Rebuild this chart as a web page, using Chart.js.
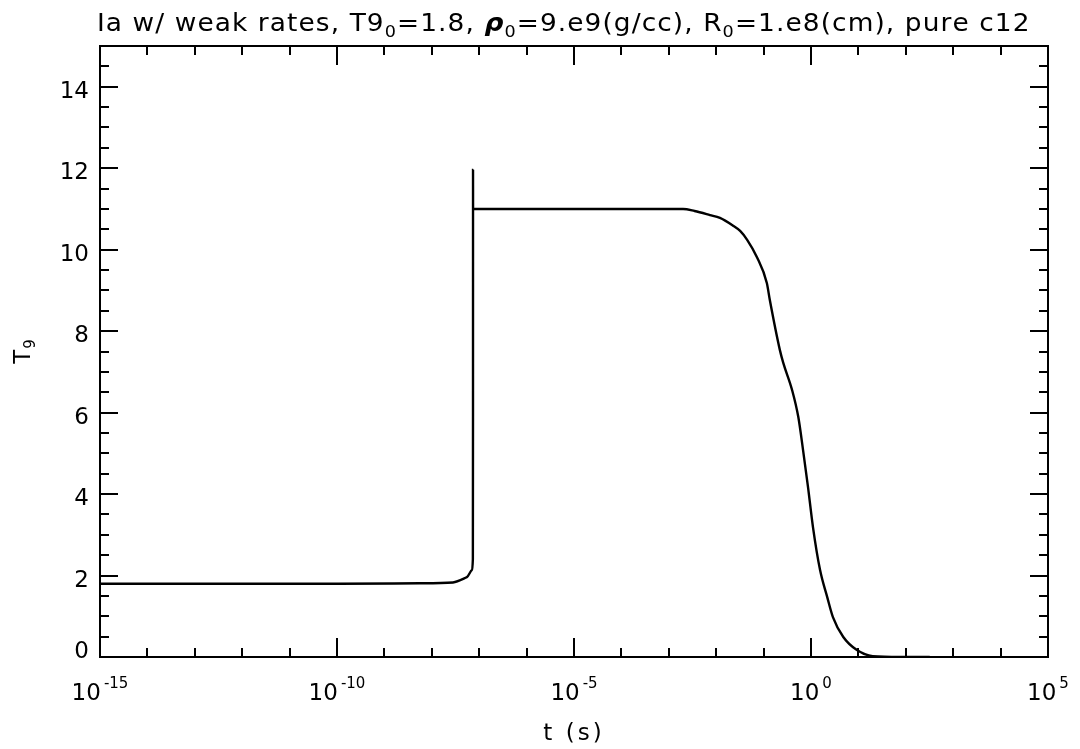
<!DOCTYPE html>
<html>
<head>
<meta charset="utf-8">
<script src="https://cdn.jsdelivr.net/npm/chart.js@4/dist/chart.umd.min.js"></script>
<style>
  html, body { margin: 0; padding: 0; background: #fff; }
  #wrap { width: 1080px; height: 749px; }
</style>
</head>
<body>
<div id="wrap"><canvas id="c" width="1080" height="749"></canvas></div>
<script>
// time (s) and temperature T9
const tValues = [1e-15, 1e-12, 1e-10, 5.6e-9, 2.8e-8, 5.5e-8, 7.1e-8, 7.35e-8,
  7.40e-8, 7.41e-8, 7.42e-8, 1e-5, 2.0e-3, 3.5e-3, 7.4e-3, 1.2e-2, 2.2e-2,
  3.2e-2, 4.5e-2, 7.2e-2, 0.117, 0.135, 0.22, 0.26, 0.40, 0.54, 0.68,
  0.865, 1.10, 1.55, 2.2, 2.9, 4.8, 9.3, 20, 76, 320];
const t9Values = [1.80, 1.80, 1.80, 1.81, 1.83, 1.96, 2.14, 2.40,
  6.0, 11.96, 11.0, 11.0, 11.0, 10.95, 10.85, 10.78, 10.6,
  10.46, 10.24, 9.82, 9.18, 8.77, 7.54, 7.22, 6.55, 5.89, 5.08,
  4.17, 3.19, 2.14, 1.47, 0.98, 0.49, 0.17, 0.02, 0.0, 0.0];

const xMajorTicks = [1e-15, 1e-10, 1e-5, 1e0, 1e5];
const xTickExponents = ['-15', '-10', '-5', '0', '5'];
const xMinorTicks = [1e-14, 1e-13, 1e-12, 1e-11, 1e-9, 1e-8, 1e-7, 1e-6,
  1e-4, 1e-3, 1e-2, 1e-1, 1e1, 1e2, 1e3, 1e4];
const yMajorTicks = [0, 2, 4, 6, 8, 10, 12, 14];
const yTickLabels = ['0', '2', '4', '6', '8', '10', '12', '14'];
const yMinorTicks = [0.5, 1, 1.5, 2.5, 3, 3.5, 4.5, 5, 5.5, 6.5, 7, 7.5, 8.5, 9, 9.5,
  10.5, 11, 11.5, 12.5, 13, 13.5, 14.5];

const FONT = '"DejaVu Sans", sans-serif';
const BIG = '23px ' + FONT;
const SMALL = '15px ' + FONT;

// IDL-style box axes: inward ticks on all four sides, labels with super/subscripts
const idlAxes = {
  id: 'idlAxes',
  afterDraw(chart) {
    const { ctx, chartArea: a, scales: { x, y } } = chart;
    ctx.save();
    ctx.strokeStyle = '#000';
    ctx.fillStyle = '#000';
    ctx.lineWidth = 2;
    ctx.strokeRect(a.left, a.top, a.right - a.left, a.bottom - a.top);

    const tickX = (v, len) => {
      const px = Math.round(x.getPixelForValue(v));
      ctx.beginPath();
      ctx.moveTo(px, a.bottom); ctx.lineTo(px, a.bottom - len);
      ctx.moveTo(px, a.top); ctx.lineTo(px, a.top + len);
      ctx.stroke();
    };
    const tickY = (v, len) => {
      const py = Math.round(y.getPixelForValue(v));
      ctx.beginPath();
      ctx.moveTo(a.left, py); ctx.lineTo(a.left + len, py);
      ctx.moveTo(a.right, py); ctx.lineTo(a.right - len, py);
      ctx.stroke();
    };
    xMajorTicks.forEach(v => tickX(v, 19));
    xMinorTicks.forEach(v => tickX(v, 9));
    yMajorTicks.forEach(v => tickY(v, 18));
    yMinorTicks.forEach(v => tickY(v, 9));

    // y tick labels (bottom one is kept inside the axis, like IDL does)
    ctx.font = BIG;
    ctx.textAlign = 'right';
    ctx.textBaseline = 'alphabetic';
    yMajorTicks.forEach((v, i) => {
      const base = Math.min(y.getPixelForValue(v) + 11, a.bottom + 1);
      ctx.fillText(yTickLabels[i], a.left - 11, base);
    });

    // x tick labels: 10^n
    ctx.textAlign = 'left';
    xMajorTicks.forEach((v, i) => {
      ctx.font = BIG;
      const wb = ctx.measureText('10').width;
      ctx.font = SMALL;
      const we = ctx.measureText(xTickExponents[i]).width;
      const x0 = x.getPixelForValue(v) - (wb + we + 3) / 2;
      ctx.font = BIG;
      ctx.fillText('10', x0, 700);
      ctx.font = SMALL;
      ctx.fillText(xTickExponents[i], x0 + wb + 3, 688);
    });

    // x axis title
    ctx.font = BIG;
    ctx.letterSpacing = '3px';
    ctx.textAlign = 'center';
    ctx.fillText('t (s)', (a.left + a.right) / 2, 740);
    ctx.letterSpacing = '0px';

    // y axis title T9 (rotated)
    ctx.save();
    ctx.translate(30, 352);
    ctx.rotate(-Math.PI / 2);
    ctx.textAlign = 'left';
    ctx.font = BIG;
    const wT = ctx.measureText('T').width;
    ctx.font = SMALL;
    const w9 = ctx.measureText('9').width;
    ctx.font = BIG;
    ctx.fillText('T', -(wT + w9) / 2, 0);
    ctx.font = SMALL;
    ctx.fillText('9', -(wT + w9) / 2 + wT + 1, 5);
    ctx.restore();

    // title with subscripts, glyphs widened a bit and spread to the original's width
    const parts = [
      ['Ia w/ weak rates, T9', 0], ['0', 1], ['=1.8, ', 0],
      ['\u03C1', 2], ['0', 1], ['=9.e9(g/cc), R', 0], ['0', 1],
      ['=1.e8(cm), pure c12', 0]
    ];
    const fontFor = k => k === 1 ? '16px ' + FONT : (k === 2 ? 'italic bold 24px ' + FONT : '24px ' + FONT);
    const hs = 1.1;
    let total = 0, nChars = 0;
    parts.forEach(([s, k]) => { ctx.font = fontFor(k); total += ctx.measureText(s).width * hs; nChars += s.length; });
    const titleLeft = 97, titleRight = 1030;
    const sp = (titleRight - titleLeft - total) / nChars;
    let cx = titleLeft;
    ctx.textAlign = 'left';
    parts.forEach(([s, k]) => {
      ctx.font = fontFor(k);
      for (const ch of s) {
        ctx.save();
        ctx.translate(cx, k === 1 ? 37 : 31);
        ctx.scale(hs, 1);
        ctx.fillText(ch, 0, 0);
        ctx.restore();
        cx += ctx.measureText(ch).width * hs + sp;
      }
    });
    ctx.restore();
  }
};

new Chart(document.getElementById('c'), {
  type: 'line',
  data: {
    datasets: [{
      data: tValues.map((t, i) => ({ x: t, y: t9Values[i] })),
      borderColor: '#000',
      borderWidth: 2.4,
      pointRadius: 0,
      cubicInterpolationMode: 'monotone',
      fill: false
    }]
  },
  options: {
    responsive: false,
    animation: false,
    devicePixelRatio: 1,
    layout: { padding: { left: 100, top: 46, right: 32, bottom: 92 } },
    plugins: { legend: { display: false }, tooltip: { enabled: false }, title: { display: false } },
    scales: {
      x: { type: 'logarithmic', min: 1e-15, max: 1e5, display: false },
      y: { type: 'linear', min: 0, max: 15, display: false }
    }
  },
  plugins: [idlAxes]
});
</script>
</body>
</html>
